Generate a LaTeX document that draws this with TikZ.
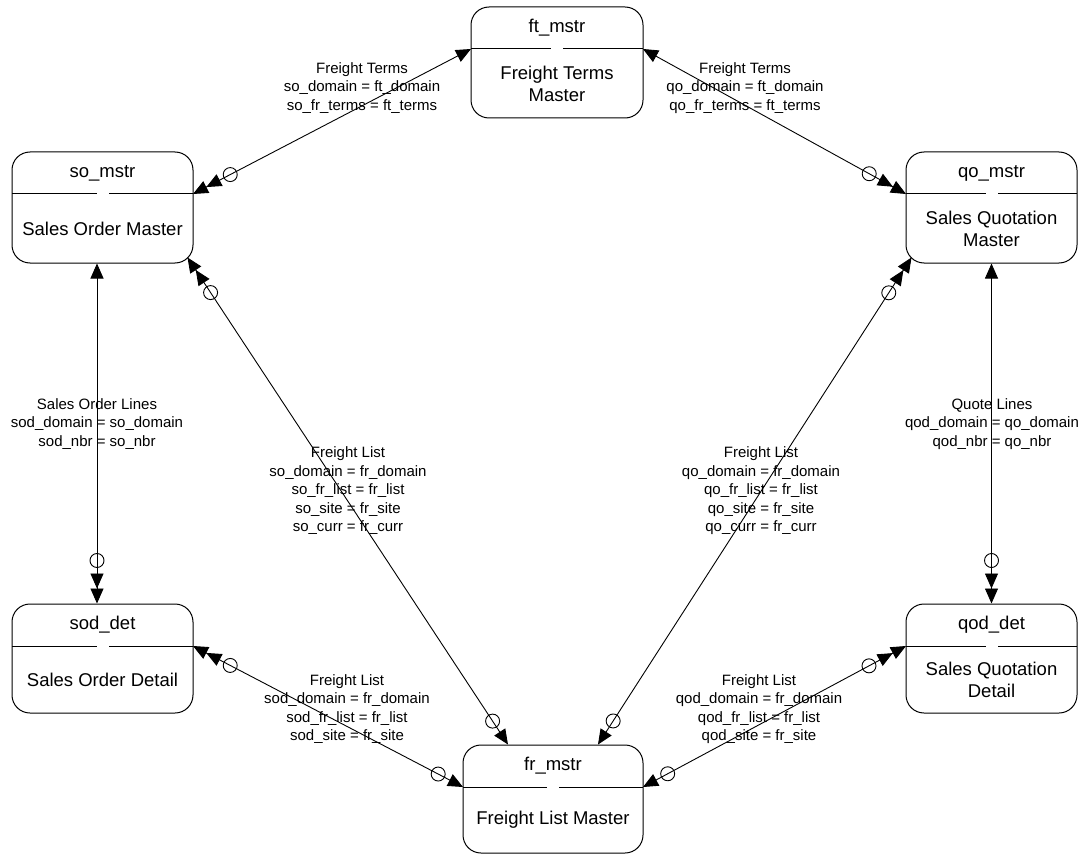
\documentclass[tikz,border=0pt]{standalone}
\usepackage{fontspec}
\setmainfont{Liberation Sans}
\usetikzlibrary{arrows.meta,calc}
\tikzset{
  ent/.style={draw, line width=1pt, rounded corners=18pt, inner sep=0pt},
  divl/.style={line width=1pt},
  ttl/.style={font=\fontsize{18.5}{22}\selectfont, inner sep=0pt},
  bdy/.style={font=\fontsize{18.5}{22}\selectfont, align=center, inner sep=0pt},
  lbl/.style={font=\fontsize{15}{18.5}\selectfont, align=center, inner sep=0pt},
  conn/.style={line width=0.9pt,
    arrows={Triangle[length=15pt,width=13pt]-Triangle[length=15pt,width=13pt,sep=0pt]Triangle[length=15pt,width=13pt]}},
  ring/.style={line width=0.9pt},
}
\newcommand\entbox[7]{%
  \node[ent, minimum width={#4-#2}, minimum height={#5-#3}] (#1) at ({(#2+#4)/2},{(#3+#5)/2}) {};
  \coordinate (#1-l) at (#2,{#3+42});
  \coordinate (#1-r) at (#4,{#3+42});
  \draw[divl] (#1-l) -- ($(#1-l)!0.5!(#1-r)+(-6,0)$);
  \draw[divl] (#1-r) -- ($(#1-l)!0.5!(#1-r)+(6,0)$);
  \node[ttl] (#1-t) at ({(#2+#4)/2},{#3+21}) {#6};
  \node[bdy] (#1-b) at ({(#2+#4)/2},{(#3+42+#5)/2}) {#7};
}
\begin{document}
\begin{tikzpicture}[x=1pt,y=-1pt]
\useasboundingbox (0,0) rectangle (1085,856);

\entbox{ft}{471}{7}{643}{118}{ft\_mstr}{Freight Terms\\Master}
\entbox{so}{12}{152}{193}{263}{so\_mstr}{Sales Order Master}
\entbox{qo}{906}{152}{1077}{263}{qo\_mstr}{Sales Quotation\\Master}
\entbox{sod}{12}{604}{193}{713}{sod\_det}{Sales Order Detail}
\entbox{qod}{906}{604}{1077}{713}{qod\_det}{Sales Quotation\\Detail}
\entbox{fr}{463}{745}{643}{853}{fr\_mstr}{Freight List Master}

% attachment points
\coordinate (so-s) at ([xshift=-5.5pt]so.south);
\coordinate (sod-n) at ([xshift=-5.5pt]sod.north);
\coordinate (qo-s) at (qo.south);
\coordinate (qod-n) at (qod.north);
\coordinate (so-c) at ([shift={(-6,-6)}]so.south east);
\coordinate (qo-c) at ([shift={(6,-6)}]qo.south west);
\coordinate (fr-n1) at ([xshift=-45pt]fr.north);
\coordinate (fr-n2) at ([xshift=45pt]fr.north);

% connectors
\draw[conn] (ft-l) -- (so-r);
\draw[conn] (ft-r) -- (qo-l);
\draw[conn] (so-s) -- (sod-n);
\draw[conn] (qo-s) -- (qod-n);
\draw[conn] (fr-n1) -- (so-c);
\draw[conn] (fr-n2) -- (qo-c);
\draw[conn] (fr-l) -- (sod-r);
\draw[conn] (fr-r) -- (qod-l);

% optionality rings
\draw[ring] ($(so-r)!42pt!(ft-l)$) circle[radius=7pt];
\draw[ring] ($(qo-l)!42pt!(ft-r)$) circle[radius=7pt];
\draw[ring] ($(sod-n)!43pt!(so-s)$) circle[radius=7pt];
\draw[ring] ($(qod-n)!43pt!(qo-s)$) circle[radius=7pt];
\draw[ring] ($(so-c)!42pt!(fr-n1)$) circle[radius=7pt];
\draw[ring] ($(qo-c)!42pt!(fr-n2)$) circle[radius=7pt];
\draw[ring] ($(sod-r)!42pt!(fr-l)$) circle[radius=7pt];
\draw[ring] ($(qod-l)!42pt!(fr-r)$) circle[radius=7pt];
\draw[ring] ($(fr-n1)!28pt!(so-c)$) circle[radius=7pt];
\draw[ring] ($(fr-n2)!28pt!(qo-c)$) circle[radius=7pt];
\draw[ring] ($(fr-l)!28pt!(sod-r)$) circle[radius=7pt];
\draw[ring] ($(fr-r)!28pt!(qod-l)$) circle[radius=7pt];

% labels
\node[lbl] (l1) at (362,88) {Freight Terms\\so\_domain = ft\_domain\\so\_fr\_terms = ft\_terms};
\node[lbl] (l2) at (745,88) {Freight Terms\\qo\_domain = ft\_domain\\qo\_fr\_terms = ft\_terms};
\node[lbl] (l3) at (97,424) {Sales Order Lines\\sod\_domain = so\_domain\\sod\_nbr = so\_nbr};
\node[lbl] (l4) at (992,424) {Quote Lines\\qod\_domain = qo\_domain\\qod\_nbr = qo\_nbr};
\node[lbl] (l5) at (348,491) {Freight List\\so\_domain = fr\_domain\\so\_fr\_list = fr\_list\\so\_site = fr\_site\\so\_curr = fr\_curr};
\node[lbl] (l6) at (761,491) {Freight List\\qo\_domain = fr\_domain\\qo\_fr\_list = fr\_list\\qo\_site = fr\_site\\qo\_curr = fr\_curr};
\node[lbl] (l7) at (347,709) {Freight List\\sod\_domain = fr\_domain\\sod\_fr\_list = fr\_list\\sod\_site = fr\_site};
\node[lbl] (l8) at (759,709) {Freight List\\qod\_domain = fr\_domain\\qod\_fr\_list = fr\_list\\qod\_site = fr\_site};
\end{tikzpicture}
\end{document}
